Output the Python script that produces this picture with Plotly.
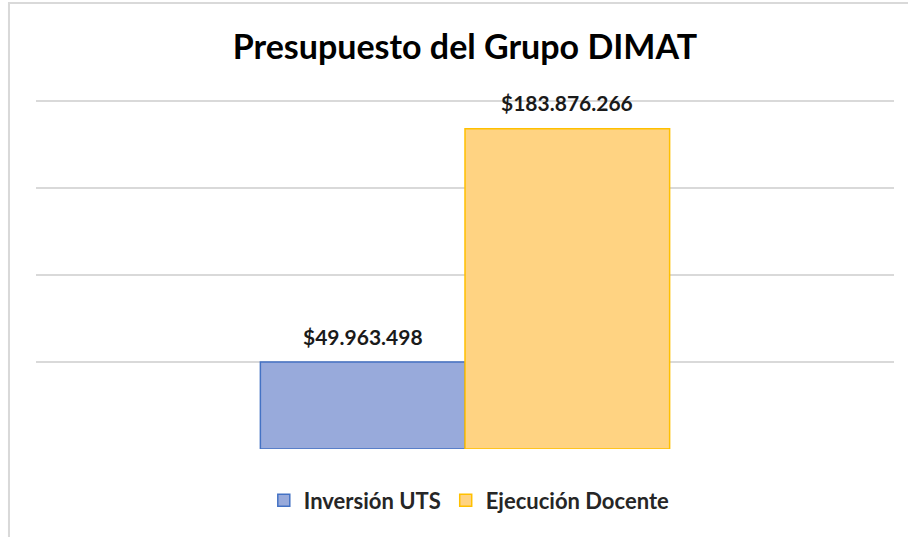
import plotly.graph_objects as go

categories = ["Presupuesto"]
series_names = ["Inversión UTS", "Ejecución Docente"]
values_uts = [49963498]
values_docente = [183876266]
y_ticks = [0, 50000000, 100000000, 150000000, 200000000]

def fmt(v):
    return "$" + f"{v:,}".replace(",", ".")

FONT = "Lato"
fig = go.Figure()
fig.add_trace(go.Bar(
    x=categories, y=values_uts, name=series_names[0],
    marker=dict(color="#98AADB", line=dict(color="#4472C4", width=1.5)),
))
fig.add_trace(go.Bar(
    x=categories, y=values_docente, name=series_names[1],
    marker=dict(color="#FFD382", line=dict(color="#FFC000", width=1.5)),
))

annotations = []
for vals, shift in ((values_uts, -102), (values_docente, 102)):
    for c, v in zip(categories, vals):
        annotations.append(dict(
            x=c, y=v, xref="x", yref="y", text="<b>" + fmt(v) + "</b>",
            showarrow=False, xanchor="center", yanchor="middle",
            xshift=shift, yshift=26,
            font=dict(family=FONT, size=21, color="#1a1a1a"),
        ))

fig.update_layout(
    width=908, height=537,
    margin=dict(l=36, r=14, t=99, b=88),
    paper_bgcolor="white", plot_bgcolor="white",
    barmode="group", bargap=0.523, bargroupgap=0,
    title=dict(text="<b>Presupuesto del Grupo DIMAT</b>", x=0.512, xanchor="center",
               y=0.912, yanchor="middle",
               font=dict(family=FONT, size=34, color="#000000")),
    showlegend=True,
    legend=dict(orientation="h", x=0.505, xanchor="center", y=-0.147, yanchor="middle",
                font=dict(family=FONT, size=22, color="#262626", weight="bold"),
                traceorder="normal"),
    xaxis=dict(showticklabels=False, showgrid=False, zeroline=False, showline=False),
    yaxis=dict(range=[0, 201000000], tickvals=y_ticks, showticklabels=False,
               showgrid=True, gridcolor="#D9D9D9", gridwidth=1.5, zeroline=False,
               showline=False),
    annotations=annotations,
    shapes=[dict(type="rect", xref="paper", yref="paper",
                 x0=-0.0315, x1=1.2, y0=-0.5, y1=1.2745,
                 line=dict(color="#D9D9D9", width=2), fillcolor="rgba(0,0,0,0)",
                 layer="below")],
)

fig.write_html("out.html", config={"displayModeBar": False},
               post_script="document.body.style.margin='0';")
